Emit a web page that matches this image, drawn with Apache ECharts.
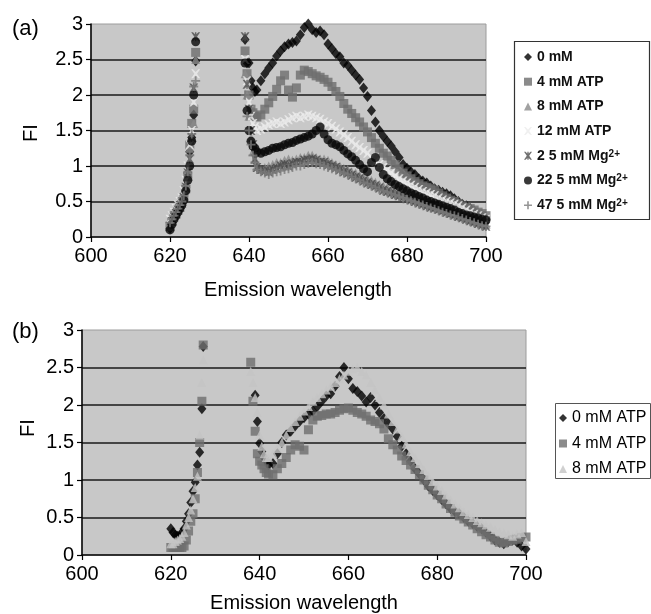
<!DOCTYPE html>
<html>
<head>
<meta charset="utf-8">
<script src="https://cdn.jsdelivr.net/npm/echarts/dist/echarts.min.js"></script>
<style>
html,body{margin:0;padding:0;background:#fff;}
#chart{width:651px;height:614px;}
</style>
</head>
<body>
<div id="chart"></div>
<script>
// ---------- Panel (a) wavelengths ----------
var wlA_edge = [620,620.5,621,621.5,622,622.5,623,623.5,624,624.5,625,625.5,626,626.5];
var wlA_desc = [639,639.5,640,640.5,641,641.5];
var wlA_main = [];
for (var w = 642; w <= 700; w++) wlA_main.push(w);

// ---------- Panel (a) series values ----------
var a_0mM = [0.12,0.2,0.28,0.35,0.4,0.45,0.5,0.6,0.7,0.9,1.2,1.4,1.72,2.48,
  2.78,2.45,2.45,2.2,2.1,2.05,
  2.07,2.2,2.3,2.38,2.45,2.55,2.62,2.68,2.72,2.74,
  2.76,2.85,2.95,3.0,2.92,2.88,2.9,2.85,2.72,2.65,
  2.58,2.54,2.45,2.42,2.35,2.28,2.22,2.1,1.98,1.78,
  1.62,1.5,1.42,1.35,1.28,1.2,1.12,1.02,0.97,0.92,
  0.88,0.82,0.79,0.76,0.72,0.68,0.66,0.63,0.61,0.58,
  0.54,0.5,0.46,0.44,0.4,0.36,0.32,0.28,0.24];
var a_4ATP = [0.15,0.22,0.3,0.32,0.38,0.42,0.5,0.55,0.68,0.85,1.3,1.6,1.8,2.6,
  2.62,2.3,2.0,1.8,1.75,1.7,
  1.69,1.72,1.8,1.89,1.98,2.08,2.2,2.28,2.07,1.97,
  2.1,2.28,2.35,2.33,2.3,2.27,2.25,2.22,2.18,2.12,
  2.05,1.98,1.88,1.8,1.74,1.68,1.62,1.55,1.48,1.4,
  1.32,1.25,1.18,1.14,1.08,1.02,0.96,0.9,0.86,0.82,
  0.78,0.75,0.72,0.7,0.68,0.66,0.62,0.58,0.55,0.52,
  0.5,0.47,0.44,0.42,0.4,0.38,0.35,0.33,0.3];
var a_8ATP = [0.2,0.25,0.3,0.35,0.4,0.45,0.5,0.6,0.75,0.95,1.25,1.4,1.6,2.5,
  2.3,2.0,1.7,1.4,1.2,1.1,
  1.0,0.95,0.98,1.0,1.02,1.05,1.05,1.08,1.1,1.08,
  1.1,1.12,1.12,1.15,1.15,1.12,1.1,1.1,1.08,1.05,
  1.02,1.0,0.97,0.95,0.92,0.9,0.87,0.85,0.82,0.8,
  0.77,0.74,0.72,0.7,0.67,0.64,0.62,0.6,0.58,0.55,
  0.53,0.51,0.49,0.47,0.45,0.43,0.41,0.39,0.37,0.35,
  0.33,0.31,0.29,0.27,0.25,0.23,0.21,0.2,0.18];
var a_12ATP = [0.25,0.3,0.35,0.4,0.45,0.5,0.55,0.65,0.8,1.0,1.3,1.5,1.9,2.3,
  2.5,2.2,1.9,1.7,1.6,1.55,
  1.5,1.52,1.55,1.58,1.6,1.62,1.6,1.62,1.65,1.68,
  1.7,1.68,1.7,1.72,1.7,1.68,1.66,1.62,1.6,1.56,
  1.52,1.48,1.44,1.4,1.35,1.3,1.26,1.22,1.18,1.12,
  1.06,1.02,0.98,0.94,0.9,0.86,0.82,0.79,0.76,0.73,
  0.7,0.67,0.64,0.62,0.6,0.58,0.55,0.52,0.5,0.48,
  0.46,0.44,0.41,0.38,0.35,0.32,0.3,0.27,0.25];
var a_2Mg = [0.15,0.22,0.28,0.33,0.38,0.42,0.48,0.55,0.7,0.9,1.1,1.4,2.1,2.82,
  2.82,2.15,1.8,1.5,1.3,1.1,
  0.98,0.95,0.93,0.92,0.95,0.97,1.0,1.02,1.0,1.03,
  1.05,1.05,1.08,1.08,1.1,1.08,1.05,1.05,1.02,1.0,
  0.98,0.95,0.92,0.9,0.87,0.84,0.82,0.79,0.76,0.74,
  0.72,0.69,0.66,0.64,0.62,0.6,0.58,0.56,0.54,0.52,
  0.5,0.48,0.46,0.44,0.42,0.41,0.39,0.37,0.35,0.33,
  0.31,0.29,0.27,0.25,0.23,0.21,0.19,0.17,0.15];
var a_22Mg = [0.1,0.18,0.25,0.3,0.35,0.4,0.45,0.52,0.65,0.8,1.0,1.35,2.0,2.75,
  2.45,1.78,1.5,1.35,1.28,1.25,
  1.2,1.18,1.2,1.22,1.25,1.26,1.27,1.3,1.32,1.33,
  1.36,1.38,1.4,1.42,1.45,1.5,1.55,1.45,1.37,1.32,
  1.3,1.27,1.22,1.17,1.13,1.08,1.02,0.96,0.92,1.05,
  1.12,0.98,0.88,0.82,0.78,0.74,0.71,0.68,0.65,0.62,
  0.6,0.57,0.55,0.52,0.5,0.48,0.46,0.44,0.42,0.4,
  0.38,0.35,0.33,0.31,0.3,0.28,0.27,0.25,0.24];
var a_47Mg = [0.2,0.25,0.3,0.35,0.4,0.45,0.5,0.58,0.72,0.92,1.15,1.45,2.12,2.2,
  2.0,1.7,1.5,1.3,1.15,1.05,
  0.95,0.92,0.9,0.88,0.9,0.92,0.93,0.95,0.96,0.98,
  1.0,1.0,1.02,1.04,1.05,1.03,1.02,1.0,0.98,0.96,
  0.94,0.92,0.9,0.88,0.85,0.82,0.8,0.77,0.75,0.72,
  0.7,0.67,0.65,0.63,0.61,0.59,0.57,0.55,0.53,0.51,
  0.49,0.47,0.45,0.43,0.41,0.39,0.37,0.35,0.33,0.31,
  0.3,0.28,0.26,0.24,0.22,0.2,0.18,0.16,0.15];

// ---------- Panel (b) wavelengths ----------
var wlB_edge = [620,620.5,621,621.5,622,622.5,623,623.5,624,624.5,625,625.5,626,626.5,627,627.3];
var wlB_desc = [638,638.5,639,639.5,640,640.5,641,641.5];
var wlB_main = [];
for (var v = 642; v <= 700; v++) wlB_main.push(v);

// ---------- Panel (b) series values ----------
var b_0ATP = [0.35,0.3,0.27,0.25,0.25,0.3,0.35,0.45,0.55,0.7,0.85,0.97,1.2,1.37,1.95,2.78,
  null,null,2.13,1.78,1.49,1.38,1.3,1.25,
  1.2,1.22,1.35,1.5,1.6,1.65,1.72,1.78,1.83,1.88,
  1.92,1.98,2.05,2.12,2.15,2.25,2.38,2.5,2.35,2.22,
  2.18,2.12,2.04,2.1,2.0,1.9,1.82,1.75,1.68,1.58,
  1.45,1.35,1.25,1.15,1.08,1.0,0.92,0.86,0.8,0.74,
  0.68,0.62,0.58,0.55,0.5,0.45,0.42,0.38,0.35,0.3,
  0.25,0.2,0.17,0.15,0.18,0.2,0.17,0.12,0.08];
var b_4ATP = [0.1,0.1,0.1,0.1,0.1,0.1,0.12,0.2,0.32,0.45,0.55,0.75,1.1,1.5,2.05,2.8,
  2.57,2.05,1.65,1.35,1.25,1.2,1.15,1.1,
  1.08,1.07,1.15,1.22,1.3,1.4,1.47,1.45,1.4,1.67,
  1.8,1.85,1.86,1.88,1.88,1.9,1.93,1.95,1.96,1.93,
  1.9,1.88,1.85,1.8,1.78,1.75,1.68,1.55,1.47,1.4,
  1.32,1.26,1.2,1.14,1.07,1.0,0.93,0.87,0.8,0.75,
  0.68,0.62,0.57,0.52,0.48,0.44,0.4,0.35,0.31,0.27,
  0.24,0.2,0.17,0.16,0.18,0.2,0.21,0.23,0.24];
var b_8ATP = [0.15,0.15,0.18,0.2,0.22,0.25,0.3,0.4,0.5,0.6,0.75,0.9,1.05,1.6,2.3,2.6,
  2.45,2.3,2.1,1.9,1.6,1.45,1.35,1.3,
  1.3,1.35,1.42,1.5,1.6,1.7,1.78,1.85,1.92,1.98,
  2.05,2.1,2.15,2.2,2.25,2.3,2.35,2.4,2.45,2.48,
  2.5,2.45,2.4,2.3,2.2,2.1,2.0,1.88,1.78,1.68,
  1.58,1.48,1.38,1.3,1.22,1.14,1.06,0.98,0.92,0.86,
  0.8,0.74,0.68,0.63,0.58,0.54,0.5,0.46,0.43,0.4,
  0.37,0.34,0.31,0.29,0.27,0.25,0.28,0.3,0.18];

// ---------- tick settings ----------
var xTicks = {min: 600, max: 700, interval: 20};
var yTicks = {min: 0, max: 3, interval: 0.5};

// ---------- build ----------
var wlA = wlA_edge.concat(wlA_desc, wlA_main);
var wlB = wlB_edge.concat(wlB_desc, wlB_main);
function pairs(xs, ys) {
  var out = [];
  for (var i = 0; i < xs.length; i++) if (ys[i] != null) out.push([xs[i], ys[i]]);
  return out;
}
var FONT = 'Liberation Sans, Arial, sans-serif';
var X_PATH = 'path://M0,0L2,0L5,3L8,0L10,0L6.5,5L10,10L8,10L5,7L2,10L0,10L3.5,5Z';
var STAR_PATH = 'path://M0,0L2,0L5,3L8,0L10,0L6.5,5L10,10L8,10L5,7L2,10L0,10L3.5,5ZM4.2,0H5.8V10H4.2Z';
var PLUS_PATH = 'path://M4,0H6V4H10V6H6V10H4V6H0V4H4Z';

var seriesA = [
  {name:'0 mM', data:a_0mM, symbol:'diamond', size:[9,11], color:'#000000'},
  {name:'4 mM ATP', data:a_4ATP, symbol:'rect', size:9, color:'#6e6e6e'},
  {name:'8 mM ATP', data:a_8ATP, symbol:'triangle', size:9, color:'#8a8a8a'},
  {name:'12 mM ATP', data:a_12ATP, symbol:X_PATH, size:9, color:'#ececec'},
  {name:'2 5 mM Mg2+', data:a_2Mg, symbol:STAR_PATH, size:9, color:'#4c4c4c'},
  {name:'22 5 mM Mg2+', data:a_22Mg, symbol:'circle', size:9, color:'#080808'},
  {name:'47 5 mM Mg2+', data:a_47Mg, symbol:PLUS_PATH, size:9, color:'#7a7a7a'}
];
var seriesB = [
  {name:'0 mM ATP', data:b_0ATP, symbol:'diamond', size:[9,11], color:'#000000'},
  {name:'4 mM ATP', data:b_4ATP, symbol:'rect', size:9, color:'#6e6e6e'},
  {name:'8 mM ATP', data:b_8ATP, symbol:'triangle', size:9, color:'#c4c4c4'}
];

var series = [];
seriesA.forEach(function(s){
  series.push({type:'scatter', name:s.name, xAxisIndex:0, yAxisIndex:0,
    data:pairs(wlA, s.data), symbol:s.symbol, symbolSize:s.size,
    itemStyle:{color:s.color}, silent:true});
});
seriesB.forEach(function(s){
  series.push({type:'scatter', name:s.name, xAxisIndex:1, yAxisIndex:1,
    data:pairs(wlB, s.data), symbol:s.symbol, symbolSize:s.size,
    itemStyle:{color:s.color}, silent:true});
});

function xAxisDef(g){
  return {gridIndex:g, type:'value', min:xTicks.min, max:xTicks.max, interval:xTicks.interval,
    axisLine:{show:true, onZero:false, lineStyle:{color:'#000', width:1.5}},
    axisTick:{show:true, length:5, lineStyle:{color:'#000', width:1.2}},
    axisLabel:{fontSize:20, color:'#000', margin:9, fontFamily:FONT},
    splitLine:{show:false}};
}
function yAxisDef(g){
  return {gridIndex:g, type:'value', min:yTicks.min, max:yTicks.max, interval:yTicks.interval,
    axisLine:{show:true, lineStyle:{color:'#000', width:1.5}},
    axisTick:{show:true, length:5, lineStyle:{color:'#000', width:1.2}},
    axisLabel:{fontSize:20, color:'#000', margin:8, fontFamily:FONT},
    splitLine:{show:true, showMaxLine:false, showMinLine:false, lineStyle:{color:'#1a1a1a', width:1.6}}};
}
function legendFmt(name){
  if (name.indexOf('Mg2+') >= 0) return '{t|' + name.replace('Mg2+','Mg') + '}{s|2+}';
  return '{t|' + name + '}';
}

var option = {
  animation:false,
  backgroundColor:'#ffffff',
  grid:[
    {left:91, top:24, width:395, height:213, show:true, backgroundColor:'#c8c8c8', borderColor:'#9c9c9c', borderWidth:1},
    {left:82, top:330, width:444, height:225, show:true, backgroundColor:'#c8c8c8', borderColor:'#9c9c9c', borderWidth:1}
  ],
  xAxis:[xAxisDef(0), xAxisDef(1)],
  yAxis:[yAxisDef(0), yAxisDef(1)],
  legend:[
    {left:524, top:50, padding:0, orient:'vertical', itemWidth:8, itemHeight:8, itemGap:10.7, selectedMode:false,
     formatter:legendFmt,
     textStyle:{fontFamily:FONT, fontSize:14, fontWeight:'bold', color:'#111',
       rich:{t:{fontFamily:FONT, fontSize:14, fontWeight:'bold', lineHeight:14, color:'#111'},
             s:{fontFamily:FONT, fontSize:10, fontWeight:'bold', lineHeight:8, verticalAlign:'top', color:'#111'}}},
     data:[
       {name:'0 mM', icon:'diamond', itemStyle:{color:'#000'}},
       {name:'4 mM ATP', icon:'rect', itemStyle:{color:'#6e6e6e'}},
       {name:'8 mM ATP', icon:'triangle', itemStyle:{color:'#8a8a8a'}},
       {name:'12 mM ATP', icon:X_PATH, itemStyle:{color:'#ececec'}},
       {name:'2 5 mM Mg2+', icon:STAR_PATH, itemStyle:{color:'#4c4c4c'}},
       {name:'22 5 mM Mg2+', icon:'circle', itemStyle:{color:'#080808'}},
       {name:'47 5 mM Mg2+', icon:PLUS_PATH, itemStyle:{color:'#7a7a7a'}}
     ]},
    {left:559, top:410, padding:0, orient:'vertical', itemWidth:8, itemHeight:8, itemGap:9.5, selectedMode:false,
     textStyle:{fontFamily:FONT, fontSize:16, color:'#000', lineHeight:16},
     data:[
       {name:'0 mM ATP', icon:'diamond', itemStyle:{color:'#000'}},
       {name:'4 mM ATP', icon:'rect', itemStyle:{color:'#6e6e6e'}},
       {name:'8 mM ATP', icon:'triangle', itemStyle:{color:'#c4c4c4'}}
     ]}
  ],
  graphic:[
    {type:'rect', z:-1, shape:{x:514.5, y:41.5, width:135, height:178}, style:{fill:'#fff', stroke:'#333', lineWidth:1.2}},
    {type:'rect', z:-1, shape:{x:555.5, y:403.5, width:95, height:75}, style:{fill:'#fff', stroke:'#555', lineWidth:1}},
    {type:'text', left:12, top:18, style:{text:'(a)', font:'22px ' + FONT, fill:'#000'}},
    {type:'text', left:12, top:321, style:{text:'(b)', font:'22px ' + FONT, fill:'#000'}},
    {type:'text', x:31, y:133, rotation:Math.PI/2, style:{text:'FI', font:'20px ' + FONT, fill:'#000', align:'center', verticalAlign:'middle'}},
    {type:'text', x:28, y:428, rotation:Math.PI/2, style:{text:'FI', font:'20px ' + FONT, fill:'#000', align:'center', verticalAlign:'middle'}},
    {type:'text', x:298, y:290, style:{text:'Emission wavelength', font:'20px ' + FONT, fill:'#000', align:'center', verticalAlign:'middle'}},
    {type:'text', x:304, y:603, style:{text:'Emission wavelength', font:'20px ' + FONT, fill:'#000', align:'center', verticalAlign:'middle'}}
  ],
  series:series
};
var chart = echarts.init(document.getElementById('chart'), null, {renderer:'canvas'});
chart.setOption(option);
</script>
</body>
</html>
